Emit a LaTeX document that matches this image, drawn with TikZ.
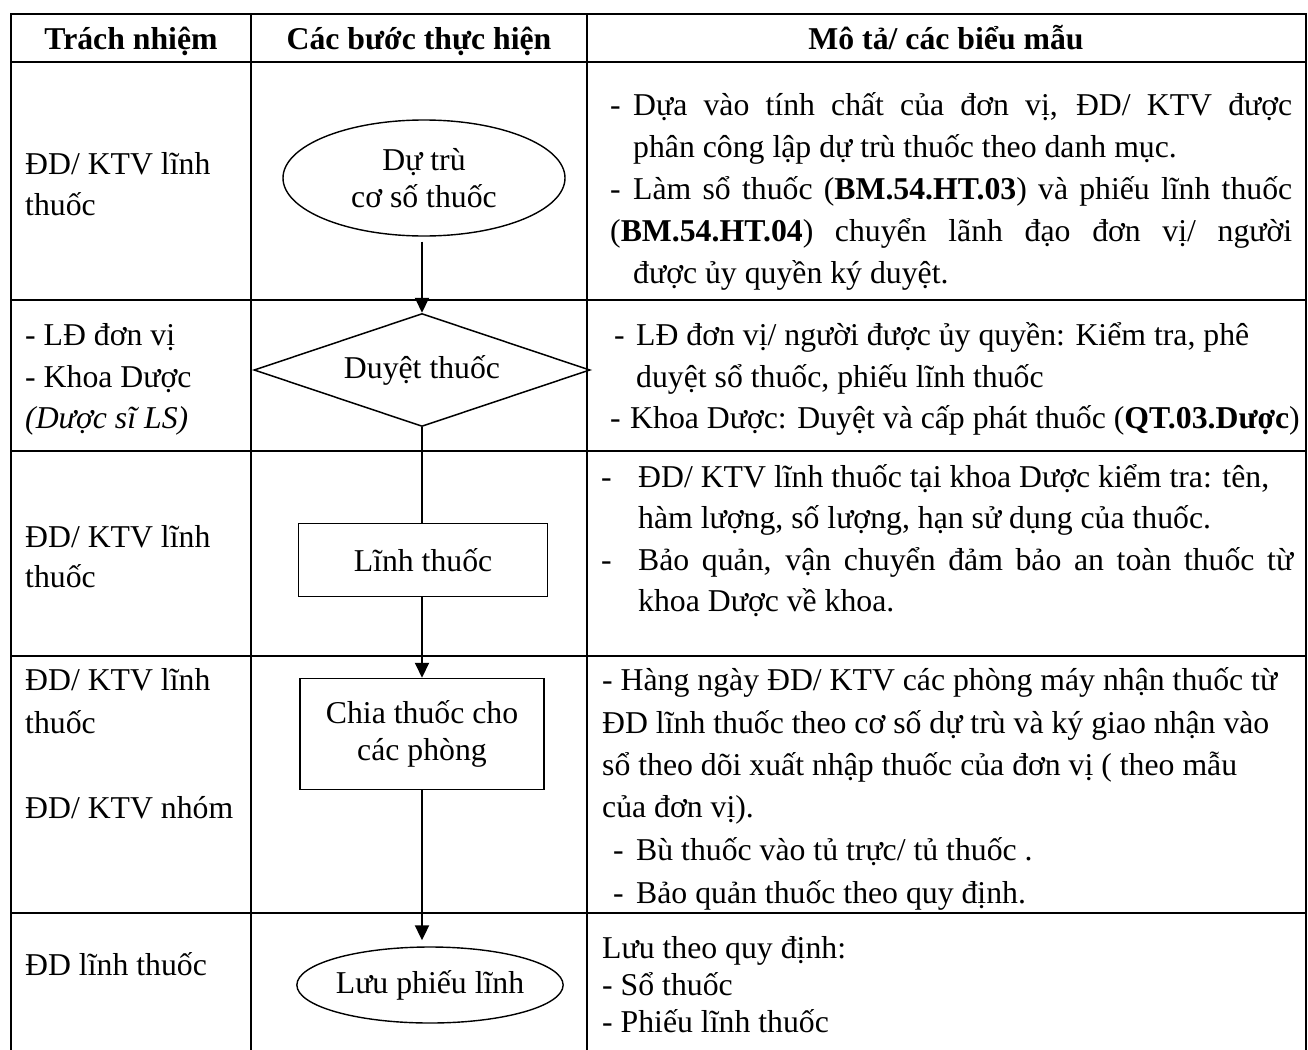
\documentclass[tikz,border=0pt]{standalone}
\usepackage{fontspec}
\setmainfont{Liberation Serif}
\usetikzlibrary{arrows.meta,shapes.geometric}
\begin{document}
\begin{tikzpicture}[x=1pt,y=-1pt,
  every node/.style={font=\fontsize{31.75}{37}\selectfont, inner sep=0pt},
  tbl/.style={line width=2.5pt, line cap=rect},
  txt/.style={anchor=base west},
  hdr/.style={anchor=base, font=\fontsize{31.75}{37}\selectfont\bfseries},
  term/.style={ellipse, draw, line width=1.4pt, align=center},
  proc/.style={rectangle, draw, line width=1.5pt, align=center},
  dec/.style={diamond, draw, line width=1.5pt, aspect=3, minimum width=336pt, minimum height=113pt},
  conn/.style={line width=2pt},
  arr/.style={line width=2pt, -{Triangle[length=15pt,width=14pt]}}
]
\useasboundingbox (0,0) rectangle (1308,1049);
% table grid
\draw[tbl] (11,14) -- (1306,14);
\foreach \yy in {62,300,451,656,913} \draw[tbl] (11,\yy) -- (1306,\yy);
\foreach \xx in {11,251,587,1306} \draw[tbl] (\xx,14) -- (\xx,1049);
% header
\node[hdr] (h1) at (131,49) {Trách nhiệm};
\node[hdr] (h2) at (419,49) {Các bước thực hiện};
\node[hdr] (h3) at (946,49) {Mô tả/ các biểu mẫu};
% left column
\node[txt] (l1a) at (25,174) {ĐD/ KTV lĩnh};
\node[txt] (l1b) at (25,215) {thuốc};
\node[txt] (l2a) at (25,345) {- LĐ đơn vị};
\node[txt] (l2b) at (25,387) {- Khoa Dược};
\node[txt] (l2c) at (25,428) {\itshape (Dược sĩ LS)};
\node[txt] (l3a) at (25,547) {ĐD/ KTV lĩnh};
\node[txt] (l3b) at (25,587) {thuốc};
\node[txt] (l4a) at (25,690) {ĐD/ KTV lĩnh};
\node[txt] (l4b) at (25,733) {thuốc};
\node[txt] (l4c) at (25,818) {ĐD/ KTV nhóm};
\node[txt] (l5a) at (25,975) {ĐD lĩnh thuốc};
% flowchart
\node[term, minimum width=282pt, minimum height=116pt] (n1) at (424,178) {Dự trù\\cơ số thuốc};
\node[dec] (n2) at (422,370) {Duyệt thuốc};
\node[proc, minimum width=249pt, minimum height=73pt] (n3) at (423,560) {Lĩnh thuốc};
\node[proc, minimum width=244pt, minimum height=111pt] (n4) at (422,734) {Chia thuốc cho\\các phòng};
\node[term, minimum width=261pt, minimum height=76pt] (n5) at (430,985) {Lưu phiếu lĩnh};
\draw[arr] ([yshift=-5pt]n1.south -| n2.north) -- (n2.north);
\draw[conn] (n2.south) -- (n2.south |- n3.north);
\draw[arr] (n3.south -| n4.north) -- (n4.north);
\draw[arr] (n4.south) -- ([yshift=6pt]n4.south |- n5.north);
% right column row 1
\node[txt] (r1d1) at (610,115) {-};
\node[txt] (r1a) at (633,115) {\makebox[659pt][s]{Dựa vào tính chất của đơn vị, ĐD/ KTV được}};
\node[txt] (r1b) at (633,157) {phân công lập dự trù thuốc theo danh mục.};
\node[txt] (r1d2) at (610,199) {-};
\node[txt] (r1c) at (633,199) {\makebox[659pt][s]{Làm sổ thuốc (\textbf{BM.54.HT.03}) và phiếu lĩnh thuốc}};
\node[txt] (r1e) at (610,241) {\makebox[682pt][s]{(\textbf{BM.54.HT.04}) chuyển lãnh đạo đơn vị/ người}};
\node[txt] (r1f) at (633,283) {được ủy quyền ký duyệt.};
% row 2
\node[txt] (r2d1) at (614,345) {-};
\node[txt] (r2a) at (636,345) {LĐ đơn vị/ người được ủy quyền: Kiểm tra, phê};
\node[txt] (r2b) at (636,387) {duyệt sổ thuốc, phiếu lĩnh thuốc};
\node[txt] (r2d2) at (610,428) {-};
\node[txt] (r2c) at (630,428) {Khoa Dược: Duyệt và cấp phát thuốc (\textbf{QT.03.Dược})};
% row 3
\node[txt] (r3d1) at (601,487) {-};
\node[txt] (r3a) at (638,487) {ĐD/ KTV lĩnh thuốc tại khoa Dược kiểm tra: tên,};
\node[txt] (r3b) at (638,528) {hàm lượng, số lượng, hạn sử dụng của thuốc.};
\node[txt] (r3d2) at (601,570) {-};
\node[txt] (r3c) at (638,570) {\makebox[655pt][s]{Bảo quản, vận chuyển đảm bảo an toàn thuốc từ}};
\node[txt] (r3e) at (638,611) {khoa Dược về khoa.};
% row 4
\node[txt] (r4a) at (602,690) {- Hàng ngày ĐD/ KTV các phòng máy nhận thuốc từ};
\node[txt] (r4b) at (602,733) {ĐD lĩnh thuốc theo cơ số dự trù và ký giao nhận vào};
\node[txt] (r4c) at (602,775) {sổ theo dõi xuất nhập thuốc của đơn vị ( theo mẫu};
\node[txt] (r4e) at (602,817) {của đơn vị).};
\node[txt] (r4d1) at (613,860) {-};
\node[txt] (r4f) at (636,860) {Bù thuốc vào tủ trực/ tủ thuốc .};
\node[txt] (r4d2) at (613,903) {-};
\node[txt] (r4g) at (636,903) {Bảo quản thuốc theo quy định.};
% row 5
\node[txt] (r5a) at (602,958) {Lưu theo quy định:};
\node[txt] (r5b) at (602,995) {- Sổ thuốc};
\node[txt] (r5c) at (602,1032) {- Phiếu lĩnh thuốc};
\end{tikzpicture}
\end{document}
